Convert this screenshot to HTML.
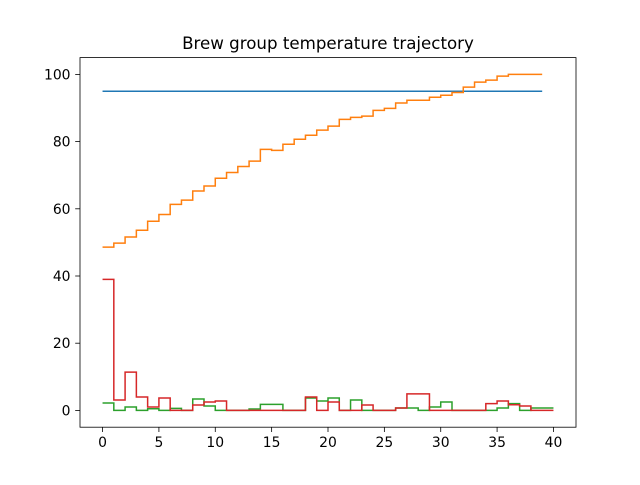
<!DOCTYPE html>
<html><head><meta charset="utf-8"><style>
body{margin:0;background:#fff;}
svg text{font-family:"DejaVu Sans","Liberation Sans",sans-serif;}
</style></head><body>
<svg id="chart" width="640" height="480" xmlns="http://www.w3.org/2000/svg">
<rect width="640" height="480" fill="#fff"/>
<text x="328" y="49" font-size="16.67" text-anchor="middle" fill="#000">Brew group temperature trajectory</text>
<g id="plot"></g>
<rect x="80" y="57.6" width="496" height="369.6" fill="none" stroke="#000" stroke-width="0.8"/>
</svg>
<script>
const xTicks=[0,5,10,15,20,25,30,35,40];
const yTicks=[0,20,40,60,80,100];
const setpoint=95;
const setpointRange=[0,39];
const orangeVals=[48.6,49.8,51.6,53.6,56.3,58.3,61.3,62.6,65.3,66.8,69.1,70.8,72.6,74.2,77.7,77.4,79.2,80.7,81.9,83.4,84.6,86.6,87.2,87.6,89.3,89.9,91.5,92.3,92.3,93.2,93.8,94.6,96.2,97.7,98.3,99.5,100,100,100,100];
const greenVals=[2.2,0,1.0,0,0.5,0,0.6,0,3.4,1.3,0,0,0,0.4,1.8,1.8,0,0,3.7,2.8,3.7,0,3.1,0,0,0,0.7,0.7,0,1.0,2.5,0,0,0,0,0.7,2.0,0,0.7,0.7,0.7];
const redVals=[39.0,3.1,11.4,4.0,1.0,3.7,0,0,1.6,2.5,2.8,0,0,0,0,0,0,0,4.0,0,2.5,0,0,1.6,0,0,0.7,4.9,4.9,0,0,0,0,0,2.0,2.8,1.7,1.3,0,0,0];
const X=v=>80+(v+2)/44*496;
const Y=v=>427.2-(v+5)/110*369.6;
const NS="http://www.w3.org/2000/svg";
const g=document.getElementById('plot');
function mk(t,a){const e=document.createElementNS(NS,t);for(const k in a)e.setAttribute(k,a[k]);g.appendChild(e);return e;}
xTicks.forEach(v=>{
  const l=mk('line',{x1:X(v),x2:X(v),y1:427.2,y2:432,stroke:'#000','stroke-width':0.8});
  
  
  const t=mk('text',{x:X(v),y:447,'font-size':13.9,'text-anchor':'middle'});t.textContent=v;
  
  
});
yTicks.forEach(v=>{
  const l=mk('line',{x1:75.2,x2:80,y1:Y(v),y2:Y(v),stroke:'#000','stroke-width':0.8});
  
  
  const t=mk('text',{x:70.5,y:Y(v)+5,'font-size':13.9,'text-anchor':'end'});t.textContent=v;
  
  
});
function steps(vals){let d='M'+X(0)+' '+Y(vals[0]);for(let i=1;i<vals.length;i++){d+=' H'+X(i)+' V'+Y(vals[i]);}return d;}
const sp=mk('path',{d:'M'+X(setpointRange[0])+' '+Y(setpoint)+' H'+X(setpointRange[1]),stroke:'#1f77b4','stroke-width':1.5,fill:'none'});


const o=mk('path',{d:steps(orangeVals),stroke:'#ff7f0e','stroke-width':1.5,fill:'none'});


const gr=mk('path',{d:steps(greenVals),stroke:'#2ca02c','stroke-width':1.5,fill:'none'});


const r=mk('path',{d:steps(redVals),stroke:'#d62728','stroke-width':1.5,fill:'none'});


</script>
</body></html>
